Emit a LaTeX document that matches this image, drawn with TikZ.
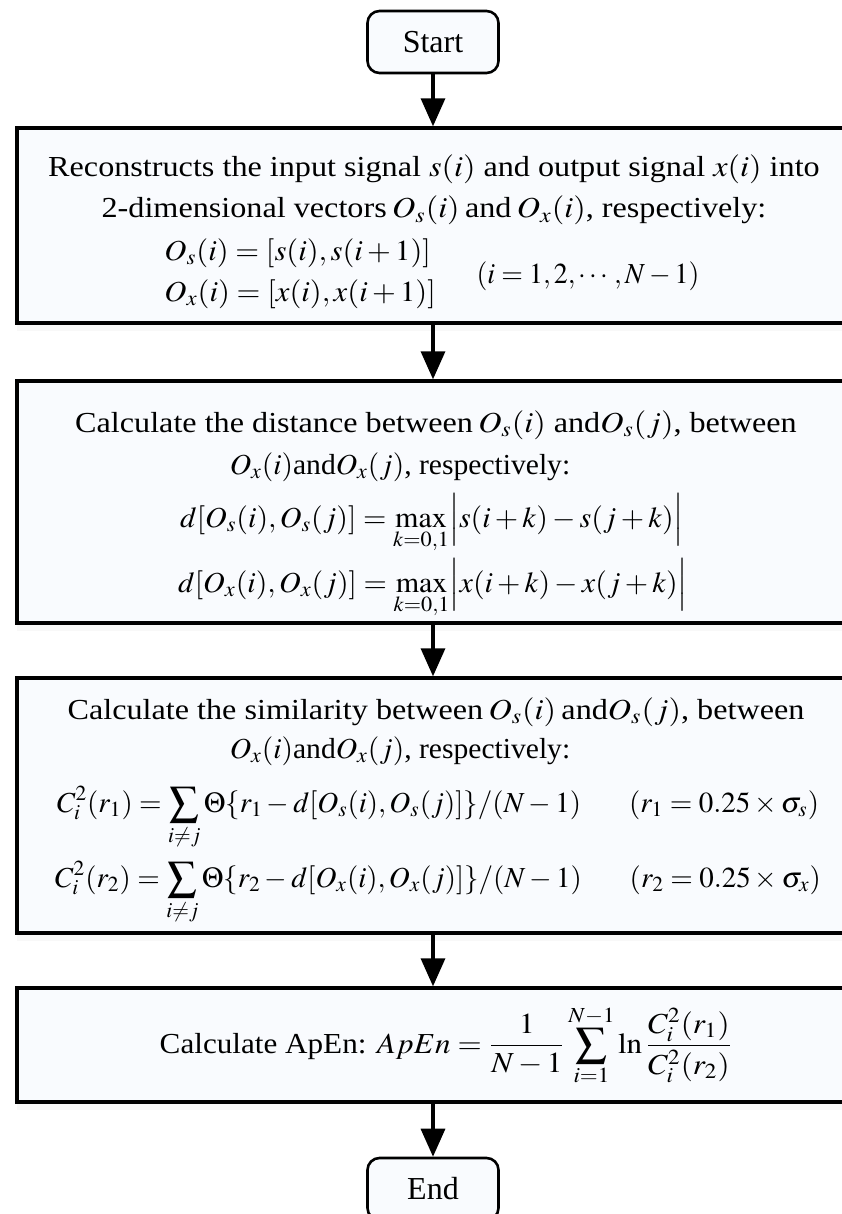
\documentclass[tikz,border=0pt]{standalone}
\usepackage{amsmath}
\usepackage{mathptmx}
\usepackage{fontspec}
\setmainfont{Liberation Serif}
\usepackage{graphicx}
\usetikzlibrary{arrows.meta,shadows}
\definecolor{boxfill}{RGB}{249,251,254}
\newcommand{\wtext}[2][1.1]{\scalebox{#1}[1]{#2}}
\tikzstyle{startstop} = [rectangle, rounded corners=6pt, minimum width=65.5pt, minimum height=31pt, text centered, draw=black, line width=1.3pt, fill=boxfill, font=\fontsize{16}{19}\selectfont]
\tikzstyle{process} = [rectangle, minimum width=416pt, draw=black, line width=1.7pt, fill=boxfill, drop shadow={shadow xshift=0pt, shadow yshift=-4pt, opacity=0.06}]
\tikzstyle{txt} = [inner sep=0pt, anchor=base, font=\fontsize{14.5}{20.5}\selectfont]
\tikzstyle{arrow} = [line width=1.7pt, -{Triangle[length=14pt, width=12pt]}]

\begin{document}
\begin{tikzpicture}[x=0.5pt, y=-0.5pt]
    \useasboundingbox (0,0) rectangle (841,1214);
    % boxes
    \node (start)[startstop] at (433,42) {Start};
    \node (recon)[process, below of=start, node distance=91.75pt, minimum height=97.5pt]{};
    \node (dist)[process, below of=recon, node distance=138.25pt, minimum height=121pt]{};
    \node (simil)[process, below of=dist, node distance=151.75pt, minimum height=127.5pt]{};
    \node (apen)[process, below of=simil, node distance=119.75pt, minimum height=57pt]{};
    \node (stop)[startstop, below of=apen, node distance=72pt]{End};
    % text of the boxes
    \node (recon1)[txt] at (434,177) {\wtext[1.11]{Reconstructs the input signal $s(i)$ and output signal $x(i)$ into}};
    \node (recon2)[txt] at (434,218) {\wtext[1.11]{2-dimensional vectors\,$O_s(i)$\,and\,$O_x(i)$, respectively:}};
    \node (recon3)[txt, anchor=base west] at (164,260) {\wtext[1.056]{$O_s(i)=[s(i),s(i+1)]$}};
    \node (recon4)[txt, anchor=base west] at (164,301) {\wtext[1.056]{$O_x(i)=[x(i),x(i+1)]$}};
    \node (recon5)[txt] at (588,283) {\wtext[0.96]{$(i=1,2,\cdots,N-1)$}};
    \node (dist1)[txt] at (436,432) {\wtext[1.11]{Calculate the distance between\,$O_s(i)$ and$O_s(j)$, between}};
    \node (dist2)[txt] at (400,474) {\wtext[1.02]{$O_x(i)$and$O_x(j)$, respectively:}};
    \node (dist3)[txt] at (432,527) {\wtext[1.036]{$\displaystyle d[O_s(i),O_s(j)]=\max_{k=0,1}\Bigl|s(i+k)-s(j+k)\Bigr|$}};
    \node (dist4)[txt] at (433,592) {\wtext[1.036]{$\displaystyle d[O_x(i),O_x(j)]=\max_{k=0,1}\Bigl|x(i+k)-x(j+k)\Bigr|$}};
    \node (simil1)[txt] at (436,719) {\wtext[1.11]{Calculate the similarity between\,$O_s(i)$\,and$O_s(j)$, between}};
    \node (simil2)[txt] at (400,758) {\wtext[1.02]{$O_x(i)$and$O_x(j)$, respectively:}};
    \node (simil3)[txt] at (438,812) {\wtext[1.0]{$\displaystyle C_i^2(r_1)=\sum_{i\neq j}\Theta\{r_1-d[O_s(i),O_s(j)]\}/(N-1)\hspace{24pt}(r_1=0.25\times\sigma_s)$}};
    \node (simil4)[txt] at (438,887) {\wtext[1.0]{$\displaystyle C_i^2(r_2)=\sum_{i\neq j}\Theta\{r_2-d[O_x(i),O_x(j)]\}/(N-1)\hspace{24pt}(r_2=0.25\times\sigma_x)$}};
    \node (apen1)[txt] at (446,1053) {\wtext[1.074]{Calculate ApEn: $\displaystyle ApEn=\frac{1}{N-1}\sum_{i=1}^{N-1}\ln\frac{C_i^2(r_1)}{C_i^2(r_2)}$}};
    % arrows
    \draw[arrow] (start)--(recon);
    \draw[arrow] (recon)--(dist);
    \draw[arrow] (dist)--(simil);
    \draw[arrow] (simil)--(apen);
    \draw[arrow] (apen)--(stop);
\end{tikzpicture}
\end{document}
